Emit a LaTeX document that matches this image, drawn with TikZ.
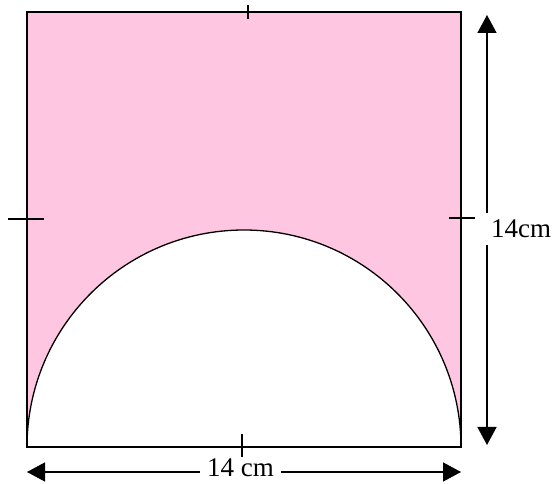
\documentclass[tikz,border=0pt]{standalone}
\usepackage{fontspec}
\setmainfont{Liberation Serif}
\usepackage{xcolor}
\usetikzlibrary{arrows.meta,positioning}
\definecolor{shadepink}{RGB}{255,198,226}

\begin{document}
\begin{tikzpicture}[
  x=1pt,y=1pt,
  edge/.style={line width=1.3pt},
  tick/.style={line width=1.3pt},
  dim/.style={-{Triangle[length=18pt,width=19pt]},line width=1.5pt},
  lbl/.style={font=\fontsize{27}{30}\selectfont,inner sep=7pt}
]
\useasboundingbox (0,0) rectangle (559,484);
\coordinate (sw) at (27,37);
\coordinate (nw) at (27,472);
\coordinate (ne) at (461,472);
\coordinate (se) at (461,37);
\fill[shadepink] (sw) -- (nw) -- (ne) -- (se) arc[start angle=0,end angle=180,radius=217] -- cycle;
\draw[edge] (sw) -- (nw) -- (ne) -- (se) -- cycle;
\draw[edge] (se) arc[start angle=0,end angle=180,radius=217];
% tick marks
\foreach \a/\b in {{248,465}/{248,479},{8,265}/{44,265},{449,266}/{475,266},{242,27}/{242,50}}
  \draw[tick] (\a) -- (\b);
% dimensions
\node[lbl] (side) at (521,255) {14cm};
\coordinate (vtop) at (487,469);
\coordinate (vbot) at (487,39);
\draw[dim] (vtop |- side.north) -- (vtop);
\draw[dim] (vbot |- side.south) -- (vbot);
\node[lbl,anchor=base] (base) at (240.5,7) {14 cm};
\coordinate (hleft) at (27,12);
\coordinate (hright) at (461,12);
\draw[dim] (hleft -| base.west) -- (hleft);
\draw[dim] (hright -| base.east) -- (hright);
\end{tikzpicture}
\end{document}
